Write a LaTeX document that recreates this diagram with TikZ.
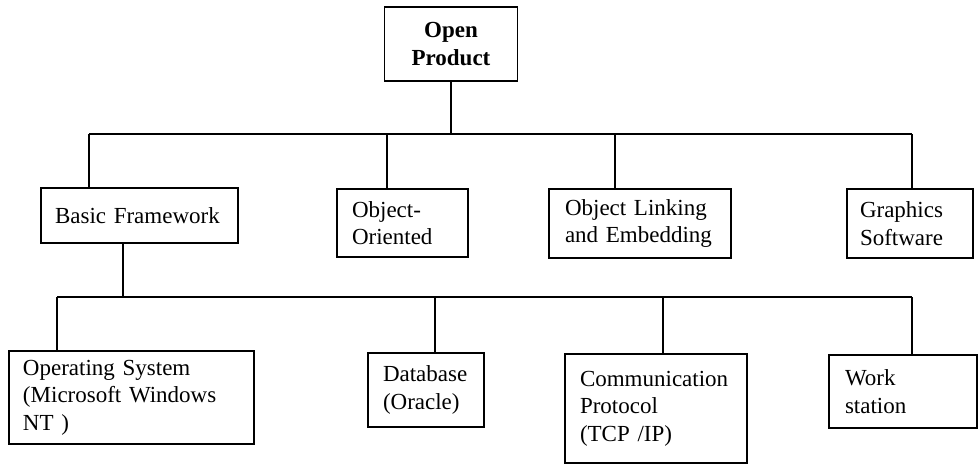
\documentclass[tikz,border=0pt]{standalone}
\usepackage{fontspec}
\setmainfont{Liberation Serif}
\begin{document}
\begin{tikzpicture}[x=1pt,y=-1pt,
  line width=1.8pt,
  every node/.style={font=\fontsize{23}{27.5}\selectfont},
  box/.style={draw, line width=1.8pt, inner ysep=0pt, align=left},
  link/.style={line width=1.8pt}]
\useasboundingbox (0,0) rectangle (979,464);

% top node
\node[box, align=center, font=\fontsize{23}{27.5}\selectfont\bfseries,
      minimum width=133pt, minimum height=74pt, inner xsep=0pt] (root) at (451,44) {Open\\Product};

% second level
\node[box, minimum height=55pt, inner xsep=14pt, text width=169pt] (basic) at (139.5,215.5) {Basic Framework};
\node[box, minimum height=68pt, inner xsep=15pt, text width=101pt] (objor) at (402.5,223) {Object-\\Oriented};
\node[box, minimum height=69pt, inner xsep=16pt, text width=150pt] (ole) at (640,223.5) {Object Linking\\and Embedding};
\node[box, minimum height=69pt, inner xsep=13pt, text width=100pt] (gfx) at (910,223.5) {Graphics\\Software};

% third level
\node[box, minimum height=93pt, inner xsep=14pt, text width=217pt] (os) at (131.5,397.5) {Operating System\\(Microsoft Windows\\NT )};
\node[box, minimum height=74pt, inner xsep=15pt, text width=86pt] (db) at (426,390) {Database\\(Oracle)};
\node[box, minimum height=109pt, inner xsep=15pt, text width=152pt] (comm) at (656,408.5) {Communication\\Protocol\\(TCP /IP)};
\node[box, minimum height=73pt, inner xsep=16pt, text width=116pt] (work) at (903,391.5) {Work\\station};

% bus levels
\coordinate (bus1) at (0,134);
\coordinate (bus2) at (0,297);

% root to second level
\draw[link] (root.south) -- (root.south |- bus1);
\draw[link] ([xshift=-50.5pt]basic.north |- bus1) -- ([xshift=2pt]gfx.north |- bus1);
\draw[link] ([xshift=-50.5pt]basic.north) -- ([xshift=-50.5pt]basic.north |- bus1);
\draw[link] ([xshift=-15.5pt]objor.north) -- ([xshift=-15.5pt]objor.north |- bus1);
\draw[link] ([xshift=-25pt]ole.north) -- ([xshift=-25pt]ole.north |- bus1);
\draw[link] ([xshift=2pt]gfx.north) -- ([xshift=2pt]gfx.north |- bus1);

% basic framework to third level
\draw[link] ([xshift=-16.5pt]basic.south) -- ([xshift=-16.5pt]basic.south |- bus2);
\draw[link] ([xshift=-74.5pt]os.north |- bus2) -- ([xshift=9pt]work.north |- bus2);
\draw[link] ([xshift=-74.5pt]os.north) -- ([xshift=-74.5pt]os.north |- bus2);
\draw[link] ([xshift=9pt]db.north) -- ([xshift=9pt]db.north |- bus2);
\draw[link] ([xshift=7pt]comm.north) -- ([xshift=7pt]comm.north |- bus2);
\draw[link] ([xshift=9pt]work.north) -- ([xshift=9pt]work.north |- bus2);
\end{tikzpicture}
\end{document}
